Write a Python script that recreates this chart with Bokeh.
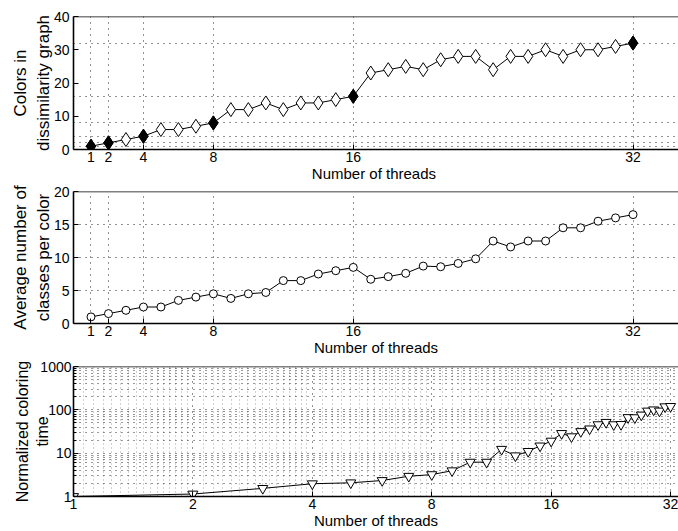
from bokeh.plotting import figure
from bokeh.layouts import column
from bokeh.models import FixedTicker, Range1d, Span
from bokeh.embed import file_html
from bokeh.resources import INLINE

# ---------------- data ----------------
threads = [1, 2, 3, 4, 5, 6, 7, 8, 9, 10, 11, 12, 13, 14, 15, 16,
           17, 18, 19, 20, 21, 22, 23, 24, 25, 26, 27, 28, 29, 30, 31, 32]
colors_count = [1, 2, 3, 4, 6, 6, 7, 8, 12, 12, 14, 12, 14, 14, 15, 16,
                23, 24, 25, 24, 27, 28, 28, 24, 28, 28, 30, 28, 30, 30, 31, 32]
avg_classes = [1.0, 1.5, 2.0, 2.5, 2.5, 3.5, 4.0, 4.5, 3.8, 4.5, 4.7, 6.5, 6.5, 7.5, 8.0, 8.5,
               6.7, 7.1, 7.6, 8.7, 8.6, 9.1, 9.8, 12.5, 11.6, 12.5, 12.5, 14.5, 14.5, 15.5, 16.0, 16.5]
norm_time = [1.0, 1.14, 1.54, 1.97, 2.07, 2.34, 2.93, 3.2, 3.93, 6.2, 6.2, 12.3, 8.7, 11.0, 14.7, 19.0,
             28.5, 24.0, 31.6, 36.4, 45.5, 51.5, 45.5, 46.0, 66.5, 66.0, 76.0, 94.0, 100.0, 94.0, 118.0, 120.0]
highlight_threads = [1, 2, 4, 8, 16, 32]
x_ticks = [1, 2, 4, 8, 16, 32]
y1_ticks = [0, 10, 20, 30, 40]
y1_grid = [1, 2, 4, 8, 16, 32]
y2_ticks = [0, 5, 10, 15, 20]
y3_ticks = [1, 10, 100, 1000]
y3_labels = ["1", "10", "100", "1000"]

FONT = "Liberation Sans"
W = 678
LEFT = 73


def style(p, xticker, yticker, top_value, xlabel):
    p.outline_line_color = None
    p.background_fill_color = "white"
    p.border_fill_color = "white"
    for ax in [p.xaxis[0], p.yaxis[0]]:
        ax.axis_line_color = "black"
        ax.axis_line_width = 1.6
        ax.major_tick_line_color = "black"
        ax.major_tick_in = 5
        ax.major_tick_out = 0
        ax.minor_tick_in = 0
        ax.minor_tick_out = 0
        ax.major_label_text_font = FONT
        ax.major_label_text_font_size = "14px"
        ax.major_label_text_color = "black"
        ax.axis_label_text_font = FONT
        ax.axis_label_text_font_style = "normal"
        ax.axis_label_text_color = "black"
    p.xaxis[0].ticker = xticker
    p.yaxis[0].ticker = yticker
    p.xaxis[0].major_label_standoff = 2
    p.xaxis[0].axis_label = xlabel
    p.xaxis[0].axis_label_text_font_size = "15px"
    p.xaxis[0].axis_label_standoff = 0
    p.yaxis[0].major_label_standoff = 4
    p.yaxis[0].axis_label_text_font_size = "17px"
    p.add_layout(Span(location=top_value, dimension="width", line_color="black", line_width=1.6))
    for g in [p.xgrid[0], p.ygrid[0]]:
        g.grid_line_color = "black"
        g.grid_line_dash = "1 5"
        g.grid_line_width = 1
        g.grid_line_alpha = 0.85


# ---------------- panel 1 ----------------
p1 = figure(width=W, height=184, x_range=Range1d(0, 34.6), y_range=Range1d(0, 40),
            output_backend="svg", toolbar_location=None,
            min_border_left=LEFT, min_border_right=0, min_border_top=16, min_border_bottom=35)
style(p1, FixedTicker(ticks=x_ticks), FixedTicker(ticks=y1_ticks), 40, "Number of  threads")
p1.ygrid[0].ticker = FixedTicker(ticks=y1_grid)
p1.yaxis[0].axis_label = "Colors in\ndissimilarity graph"
p1.yaxis[0].axis_label_standoff = -2
p1.line(threads, colors_count, line_color="black", line_width=1)
p1.scatter(threads, colors_count, marker="diamond", size=14, fill_color="white",
           line_color="black", line_width=1)
hl_vals = [colors_count[threads.index(t)] for t in highlight_threads]
p1.scatter(highlight_threads, hl_vals, marker="diamond", size=14, fill_color="black",
           line_color="black", line_width=1)

# ---------------- panel 2 ----------------
p2 = figure(width=W, height=174, x_range=Range1d(0, 34.6), y_range=Range1d(0, 20),
            output_backend="svg", toolbar_location=None,
            min_border_left=LEFT, min_border_right=0, min_border_top=7, min_border_bottom=34)
style(p2, FixedTicker(ticks=x_ticks), FixedTicker(ticks=y2_ticks), 20, "Number of threads")
p2.yaxis[0].axis_label = "Average number of\nclasses per color"
p2.yaxis[0].axis_label_standoff = -2
p2.line(threads, avg_classes, line_color="black", line_width=1)
p2.scatter(threads, avg_classes, marker="circle", size=8, fill_color="white",
           line_color="black", line_width=1)

# ---------------- panel 3 ----------------
x_minor = []
for o in [1, 2, 4, 8, 16]:
    for k in range(1, 16):
        x_minor.append(o + o * k / 16.0)
y_minor = []
for d in [1, 10, 100]:
    for k in range(2, 10):
        y_minor.append(d * k)

p3 = figure(width=W, height=173, x_range=Range1d(1, 33.5), y_range=Range1d(1, 1000),
            x_axis_type="log", y_axis_type="log",
            output_backend="svg", toolbar_location=None,
            min_border_left=LEFT, min_border_right=0, min_border_top=8, min_border_bottom=33)
style(p3, FixedTicker(ticks=x_ticks, minor_ticks=x_minor),
      FixedTicker(ticks=y3_ticks, minor_ticks=y_minor), 1000, "Number of threads")
p3.xaxis[0].major_label_overrides = {t: str(t) for t in x_ticks}
p3.yaxis[0].major_label_overrides = dict(zip(y3_ticks, y3_labels))
p3.yaxis[0].major_label_standoff = 2
p3.yaxis[0].minor_tick_in = 3
p3.yaxis[0].minor_tick_line_color = "black"
p3.yaxis[0].axis_label = "Normalized coloring\ntime"
p3.yaxis[0].axis_label_text_font_size = "16px"
p3.yaxis[0].axis_label_standoff = -14
p3.xgrid[0].minor_grid_line_color = "#666666"
p3.xgrid[0].minor_grid_line_dash = "1 3"
p3.xgrid[0].minor_grid_line_alpha = 0.6
p3.ygrid[0].minor_grid_line_color = "black"
p3.ygrid[0].minor_grid_line_dash = "1 5"
p3.ygrid[0].minor_grid_line_alpha = 0.8
p3.line(threads, norm_time, line_color="black", line_width=1)
p3.scatter(threads, norm_time, marker="inverted_triangle", size=10, fill_color="white",
           line_color="black", line_width=1)

layout = column(p1, p2, p3, spacing=0)
open("out.html", "w").write(file_html(layout, INLINE))
